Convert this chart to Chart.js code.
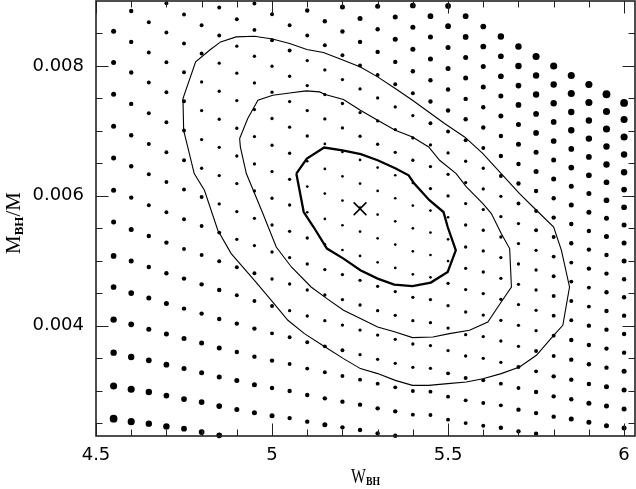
<!DOCTYPE html>
<html>
<head>
<meta charset="utf-8">
<script src="https://cdn.jsdelivr.net/npm/chart.js@4"></script>
<style>html,body{margin:0;background:#fff}canvas{display:block}</style>
</head>
<body>
<canvas id="c" width="636" height="489"></canvas>
<script>
const $ = id => document.getElementById(id);

// model grid: one column per W_BH value, M_BH/M values top → bottom
const wGrid = [4.55, 4.60, 4.65, 4.70, 4.75, 4.80, 4.85, 4.90, 4.95, 5.00,
               5.05, 5.10, 5.15, 5.20, 5.25, 5.30, 5.35, 5.40, 5.45, 5.50,
               5.55, 5.60, 5.65, 5.70, 5.75, 5.80, 5.85, 5.90, 5.95, 6.00];
const mCols = [
  [0.008535, 0.008052, 0.007564, 0.007071, 0.006583, 0.006085, 0.005596, 0.005073, 0.004595, 0.004093, 0.003584, 0.003069, 0.002567],
  [0.008847, 0.008370, 0.007898, 0.007415, 0.006932, 0.006455, 0.005972, 0.005479, 0.004995, 0.004502, 0.004020, 0.003516, 0.003019, 0.002521],
  [0.008673, 0.008206, 0.007744, 0.007271, 0.006798, 0.006331, 0.005854, 0.005381, 0.004903, 0.004425, 0.003943, 0.003465, 0.002977, 0.002490],
  [0.008966, 0.008515, 0.008057, 0.007595, 0.007133, 0.006670, 0.006213, 0.005746, 0.005279, 0.004806, 0.004339, 0.003871, 0.003399, 0.002922, 0.002448],
  [0.008792, 0.008345, 0.007903, 0.007456, 0.007005, 0.006547, 0.006096, 0.005638, 0.005180, 0.004724, 0.004262, 0.003800, 0.003338, 0.002869, 0.002413],
  [0.008627, 0.008191, 0.007754, 0.007313, 0.006866, 0.006424, 0.005982, 0.005535, 0.005088, 0.004636, 0.004185, 0.003732, 0.003276, 0.002823, 0.002361],
  [0.008900, 0.008468, 0.008042, 0.007610, 0.007179, 0.006747, 0.006311, 0.005874, 0.005433, 0.004991, 0.004549, 0.004102, 0.003655, 0.003208, 0.002761, 0.002310],
  [0.008720, 0.008304, 0.007888, 0.007467, 0.007040, 0.006613, 0.006188, 0.005757, 0.005330, 0.004898, 0.004467, 0.004031, 0.003593, 0.003153, 0.002710],
  [0.008962, 0.008555, 0.008149, 0.007738, 0.007328, 0.006912, 0.006490, 0.006074, 0.005653, 0.005233, 0.004806, 0.004379, 0.003954, 0.003522, 0.003091, 0.002660],
  [0.008797, 0.008396, 0.007995, 0.007595, 0.007190, 0.006778, 0.006373, 0.005962, 0.005550, 0.005134, 0.004718, 0.004302, 0.003881, 0.003461, 0.003039, 0.002613],
  [0.008627, 0.008237, 0.007841, 0.007451, 0.007056, 0.006655, 0.006254, 0.005858, 0.005453, 0.005048, 0.004641, 0.004231, 0.003820, 0.003408, 0.002992, 0.002576],
  [0.008854, 0.008468, 0.008083, 0.007698, 0.007313, 0.006921, 0.006532, 0.006142, 0.005746, 0.005350, 0.004949, 0.004549, 0.004148, 0.003743, 0.003338, 0.002931, 0.002521],
  [0.008689, 0.008319, 0.007938, 0.007559, 0.007183, 0.006798, 0.006413, 0.006034, 0.005643, 0.005253, 0.004863, 0.004472, 0.004077, 0.003681, 0.003281, 0.002880, 0.002475],
  [0.008909, 0.008530, 0.008165, 0.007790, 0.007421, 0.007045, 0.006675, 0.006300, 0.005926, 0.005546, 0.005165, 0.004786, 0.004401, 0.004009, 0.003620, 0.003224, 0.002829, 0.002433],
  [0.008730, 0.008370, 0.008006, 0.007646, 0.007282, 0.006917, 0.006552, 0.006188, 0.005818, 0.005448, 0.005073, 0.004698, 0.004318, 0.003932, 0.003553, 0.003168, 0.002783, 0.002392],
  [0.008920, 0.008566, 0.008216, 0.007861, 0.007507, 0.007153, 0.006794, 0.006435, 0.006074, 0.005710, 0.005345, 0.004975, 0.004606, 0.004231, 0.003855, 0.003481, 0.003106, 0.002726, 0.002341],
  [0.008755, 0.008411, 0.008062, 0.007718, 0.007368, 0.007020, 0.006670, 0.006316, 0.005962, 0.005607, 0.005248, 0.004888, 0.004524, 0.004159, 0.003789, 0.003419, 0.003049, 0.002680, 0.002305],
  [0.008931, 0.008596, 0.008257, 0.007918, 0.007579, 0.007236, 0.006891, 0.006547, 0.006197, 0.005849, 0.005499, 0.005145, 0.004790, 0.004436, 0.004077, 0.003717, 0.003358, 0.002992, 0.002629],
  [0.008766, 0.008447, 0.008108, 0.007780, 0.007451, 0.007117, 0.006783, 0.006450, 0.006111, 0.005772, 0.005433, 0.005088, 0.004744, 0.004401, 0.004046, 0.003692, 0.003342, 0.002983, 0.002623],
  [0.008924, 0.008612, 0.008284, 0.007960, 0.007636, 0.007313, 0.006989, 0.006660, 0.006331, 0.005997, 0.005669, 0.005330, 0.004995, 0.004652, 0.004308, 0.003963, 0.003615, 0.003265, 0.002906, 0.002552],
  [0.008766, 0.008447, 0.008129, 0.007815, 0.007492, 0.007179, 0.006855, 0.006532, 0.006203, 0.005880, 0.005550, 0.005211, 0.004883, 0.004555, 0.004210, 0.003861, 0.003532, 0.003193, 0.002849, 0.002499],
  [0.008607, 0.008299, 0.007991, 0.007676, 0.007364, 0.007051, 0.006737, 0.006424, 0.006105, 0.005787, 0.005469, 0.005150, 0.004826, 0.004493, 0.004163, 0.003831, 0.003496, 0.003157, 0.002808, 0.002459],
  [0.008453, 0.008149, 0.007841, 0.007538, 0.007230, 0.006921, 0.006613, 0.006305, 0.005992, 0.005680, 0.005365, 0.005048, 0.004729, 0.004405, 0.004082, 0.003763, 0.003435, 0.003106, 0.002772, 0.002428],
  [0.008299, 0.008000, 0.007698, 0.007399, 0.007097, 0.006794, 0.006490, 0.006188, 0.005880, 0.005572, 0.005264, 0.004949, 0.004636, 0.004324, 0.004005, 0.003681, 0.003362, 0.003039, 0.002706, 0.002372],
  [0.008145, 0.007852, 0.007559, 0.007260, 0.006968, 0.006670, 0.006373, 0.006074, 0.005766, 0.005469, 0.005160, 0.004857, 0.004549, 0.004236, 0.003923, 0.003609, 0.003296, 0.002977, 0.002653, 0.002336],
  [0.008000, 0.007713, 0.007425, 0.007137, 0.006844, 0.006552, 0.006259, 0.005962, 0.005664, 0.005365, 0.005063, 0.004760, 0.004456, 0.004154, 0.003846, 0.003532, 0.003219, 0.002911, 0.002598],
  [0.007852, 0.007575, 0.007291, 0.007009, 0.006721, 0.006435, 0.006146, 0.005858, 0.005565, 0.005268, 0.004971, 0.004678, 0.004379, 0.004082, 0.003778, 0.003476, 0.003168, 0.002865, 0.002561],
  [0.007713, 0.007436, 0.007159, 0.006881, 0.006598, 0.006316, 0.006034, 0.005746, 0.005458, 0.005171, 0.004878, 0.004586, 0.004293, 0.004000, 0.003701, 0.003404, 0.003100, 0.002803, 0.002510],
  [0.007564, 0.007297, 0.007029, 0.006758, 0.006481, 0.006208, 0.005931, 0.005653, 0.005371, 0.005088, 0.004801, 0.004513, 0.004225, 0.003938, 0.003646, 0.003353, 0.003060, 0.002761, 0.002459],
  [0.007430, 0.007174, 0.006906, 0.006635, 0.006362, 0.006096, 0.005823, 0.005550, 0.005273, 0.004995, 0.004714, 0.004436, 0.004154, 0.003871, 0.003584, 0.003296, 0.003008, 0.002715, 0.002422],
];
// dot size class per grid point (1 = smallest, 9 = largest), same order as mCols
const sizeCode = [
  "5555555667789", "44444445566788", "33333334455677", "333333334455667", "333333333445566",
  "332222333445566", "3322222233445566", "322222222334455", "3322222222334455", "3322222222233445",
  "3322222222223344", "43222211122223344", "43222111112223345", "543222111112223344", "543222111112222344",
  "5443222111112222344", "5543222111112222344", "6554322211111222233", "6554432221111222233", "66554432221112222333",
  "66554432222222222333", "66554432222222222333", "76655443222222222334", "77665544322222223344", "87766554332222233444",
  "8776655443333333444", "8877665544333344445", "8877665544433444455", "9887766554444444555", "9887766555444445555",
];

// confidence contours [W_BH, M_BH/M]
const outer = [[4.749,0.007009],[4.747,0.007498],[4.783,0.008062],[4.825,0.008253],[4.854,0.008370],[4.898,0.008447],[4.950,0.008458],[5.001,0.008416],[5.050,0.008345],[5.099,0.008253],[5.146,0.008206],[5.203,0.008088],[5.251,0.007985],[5.300,0.007831],[5.350,0.007652],[5.399,0.007471],[5.445,0.007291],[5.490,0.007113],[5.547,0.006906],[5.599,0.006650],[5.651,0.006342],[5.703,0.006034],[5.751,0.005777],[5.800,0.005519],[5.822,0.005160],[5.845,0.004595],[5.826,0.004005],[5.800,0.003851],[5.751,0.003543],[5.703,0.003362],[5.651,0.003261],[5.599,0.003183],[5.552,0.003131],[5.499,0.003106],[5.445,0.003080],[5.399,0.003080],[5.350,0.003157],[5.300,0.003261],[5.251,0.003338],[5.203,0.003492],[5.151,0.003670],[5.092,0.003877],[5.045,0.004082],[4.998,0.004390],[4.950,0.004698],[4.884,0.005110],[4.846,0.005469],[4.808,0.006085],[4.779,0.006342]];
const middle = [[4.908,0.006881],[4.931,0.007190],[4.960,0.007472],[5.002,0.007549],[5.050,0.007584],[5.097,0.007615],[5.135,0.007600],[5.151,0.007559],[5.203,0.007482],[5.251,0.007317],[5.300,0.007163],[5.350,0.007009],[5.399,0.006906],[5.445,0.006752],[5.476,0.006547],[5.523,0.006342],[5.552,0.006136],[5.599,0.005880],[5.623,0.005726],[5.651,0.005418],[5.675,0.005187],[5.680,0.004595],[5.651,0.004364],[5.613,0.004056],[5.561,0.003928],[5.504,0.003877],[5.457,0.003824],[5.399,0.003815],[5.350,0.003902],[5.300,0.003979],[5.251,0.004108],[5.203,0.004236],[5.156,0.004416],[5.111,0.004595],[5.055,0.004903],[5.012,0.005211],[4.974,0.005726],[4.927,0.006342],[4.910,0.006752]];
const inner = [[5.069,0.006342],[5.099,0.006573],[5.148,0.006743],[5.200,0.006701],[5.252,0.006640],[5.300,0.006547],[5.350,0.006424],[5.388,0.006316],[5.404,0.006188],[5.447,0.005931],[5.487,0.005750],[5.499,0.005519],[5.522,0.005160],[5.499,0.004826],[5.451,0.004663],[5.399,0.004610],[5.347,0.004632],[5.300,0.004724],[5.251,0.004852],[5.203,0.005032],[5.156,0.005187],[5.118,0.005519],[5.090,0.005750]];
const bestFit = [5.25, 0.00580];

const xMajor = [4.5, 5, 5.5, 6];
const xMinor = [4.6, 4.7, 4.8, 4.9, 5.1, 5.2, 5.3, 5.4, 5.6, 5.7, 5.8, 5.9];
const yMajor = [0.004, 0.006, 0.008];
const yMinor = [0.0025, 0.003, 0.0035, 0.0045, 0.005, 0.0055, 0.0065, 0.007, 0.0075, 0.0085];

const RADIUS = [0, 1.35, 1.65, 1.95, 2.2, 2.5, 2.85, 3.2, 3.55, 3.9];
const INK = "#000";

const dots = [], dotR = [];
wGrid.forEach((w, j) => mCols[j].forEach((m, i) => {
  dots.push({ x: w, y: m });
  dotR.push(RADIUS[+sizeCode[j][i]]);
}));

const loop = pts => pts.concat([pts[0]]).map(([x, y]) => ({ x, y }));
const contour = (pts, w) => ({
  data: loop(pts), showLine: true, borderColor: INK, borderWidth: w,
  pointRadius: 0, tension: 0, fill: false,
});

// frame with inward ticks on all four sides
const frame = {
  id: "frame",
  afterDraw(chart) {
    const { ctx, chartArea: a, scales: { x, y } } = chart;
    ctx.save();
    ctx.strokeStyle = "#222";
    ctx.lineWidth = 1;
    ctx.beginPath();
    const xt = (v, len) => {
      const p = Math.round(x.getPixelForValue(v)) + 0.5;
      ctx.moveTo(p, a.bottom); ctx.lineTo(p, a.bottom - len);
      ctx.moveTo(p, a.top); ctx.lineTo(p, a.top + len);
    };
    const yt = (v, len) => {
      const p = Math.round(y.getPixelForValue(v)) + 0.5;
      ctx.moveTo(a.left, p); ctx.lineTo(a.left + len, p);
      ctx.moveTo(a.right, p); ctx.lineTo(a.right - len, p);
    };
    xMajor.forEach(v => xt(v, 12.5));
    xMinor.forEach(v => xt(v, 6.5));
    yMajor.forEach(v => yt(v, 12.5));
    yMinor.forEach(v => yt(v, 6.5));
    ctx.stroke();
    ctx.lineWidth = 1.6;
    ctx.strokeRect(a.left, a.top, a.right - a.left, a.bottom - a.top);
    ctx.restore();
  },
};

// axis titles with subscripts
const MAIN = "21px 'Liberation Serif'", SUB = "bold 13px 'Liberation Serif'";
function label(ctx, parts, cx, base) {
  const w = parts.map(p => { ctx.font = p.sub ? SUB : MAIN; return ctx.measureText(p.t).width; });
  let x = cx - w.reduce((s, v) => s + v, 0) / 2;
  parts.forEach((p, i) => {
    ctx.font = p.sub ? SUB : MAIN;
    ctx.fillText(p.t, x, base + (p.sub ? 2.5 : 0));
    x += w[i];
  });
}
const titles = {
  id: "titles",
  afterDraw(chart) {
    const { ctx, chartArea: a } = chart;
    ctx.save();
    ctx.fillStyle = INK;
    ctx.textBaseline = "alphabetic";
    ctx.textAlign = "left";
    ctx.save();
    ctx.translate((a.left + a.right) / 2, 482.5);
    ctx.scale(0.75, 1);
    label(ctx, [{ t: "W" }, { t: "BH", sub: true }], 0, 0);
    ctx.restore();
    ctx.translate(20, 223);
    ctx.rotate(-Math.PI / 2);
    label(ctx, [{ t: "M" }, { t: "BH", sub: true }, { t: "/M" }], 0, 0);
    ctx.restore();
  },
};

const tickFont = { family: "'DejaVu Sans'", size: 18 };

new Chart($("c"), {
  type: "scatter",
  data: {
    datasets: [
      { data: dots, pointRadius: dotR, pointBackgroundColor: INK, pointBorderWidth: 0, clip: false },
      contour(outer, 1.1),
      contour(middle, 1.1),
      contour(inner, 2.3),
      { data: [{ x: bestFit[0], y: bestFit[1] }], pointStyle: "crossRot", pointRadius: 9,
        pointBorderColor: INK, pointBorderWidth: 1.6, clip: false },
    ],
  },
  options: {
    responsive: false,
    animation: false,
    events: [],
    layout: { autoPadding: false, padding: { top: 1, right: 1, left: 0, bottom: 0 } },
    plugins: { legend: { display: false }, tooltip: { enabled: false } },
    scales: {
      x: {
        type: "linear", min: 4.5, max: 6.031,
        grid: { display: false, drawTicks: false }, border: { display: false },
        afterBuildTicks: s => { s.ticks = xMajor.map(value => ({ value })); },
        afterFit: s => { s.height = 53; s.paddingLeft = 0; s.paddingRight = 0; },
        ticks: { font: tickFont, color: INK, padding: 9, autoSkip: false, maxRotation: 0, callback: v => String(v) },
      },
      y: {
        type: "linear", min: 0.0023, max: 0.009,
        grid: { display: false, drawTicks: false }, border: { display: false },
        afterBuildTicks: s => { s.ticks = yMajor.map(value => ({ value })); },
        afterFit: s => { s.width = 96; s.paddingTop = 0; s.paddingBottom = 0; },
        ticks: { font: tickFont, color: INK, padding: 12, autoSkip: false, callback: v => v.toFixed(3) },
      },
    },
  },
  plugins: [frame, titles],
});
</script>
</body>
</html>
